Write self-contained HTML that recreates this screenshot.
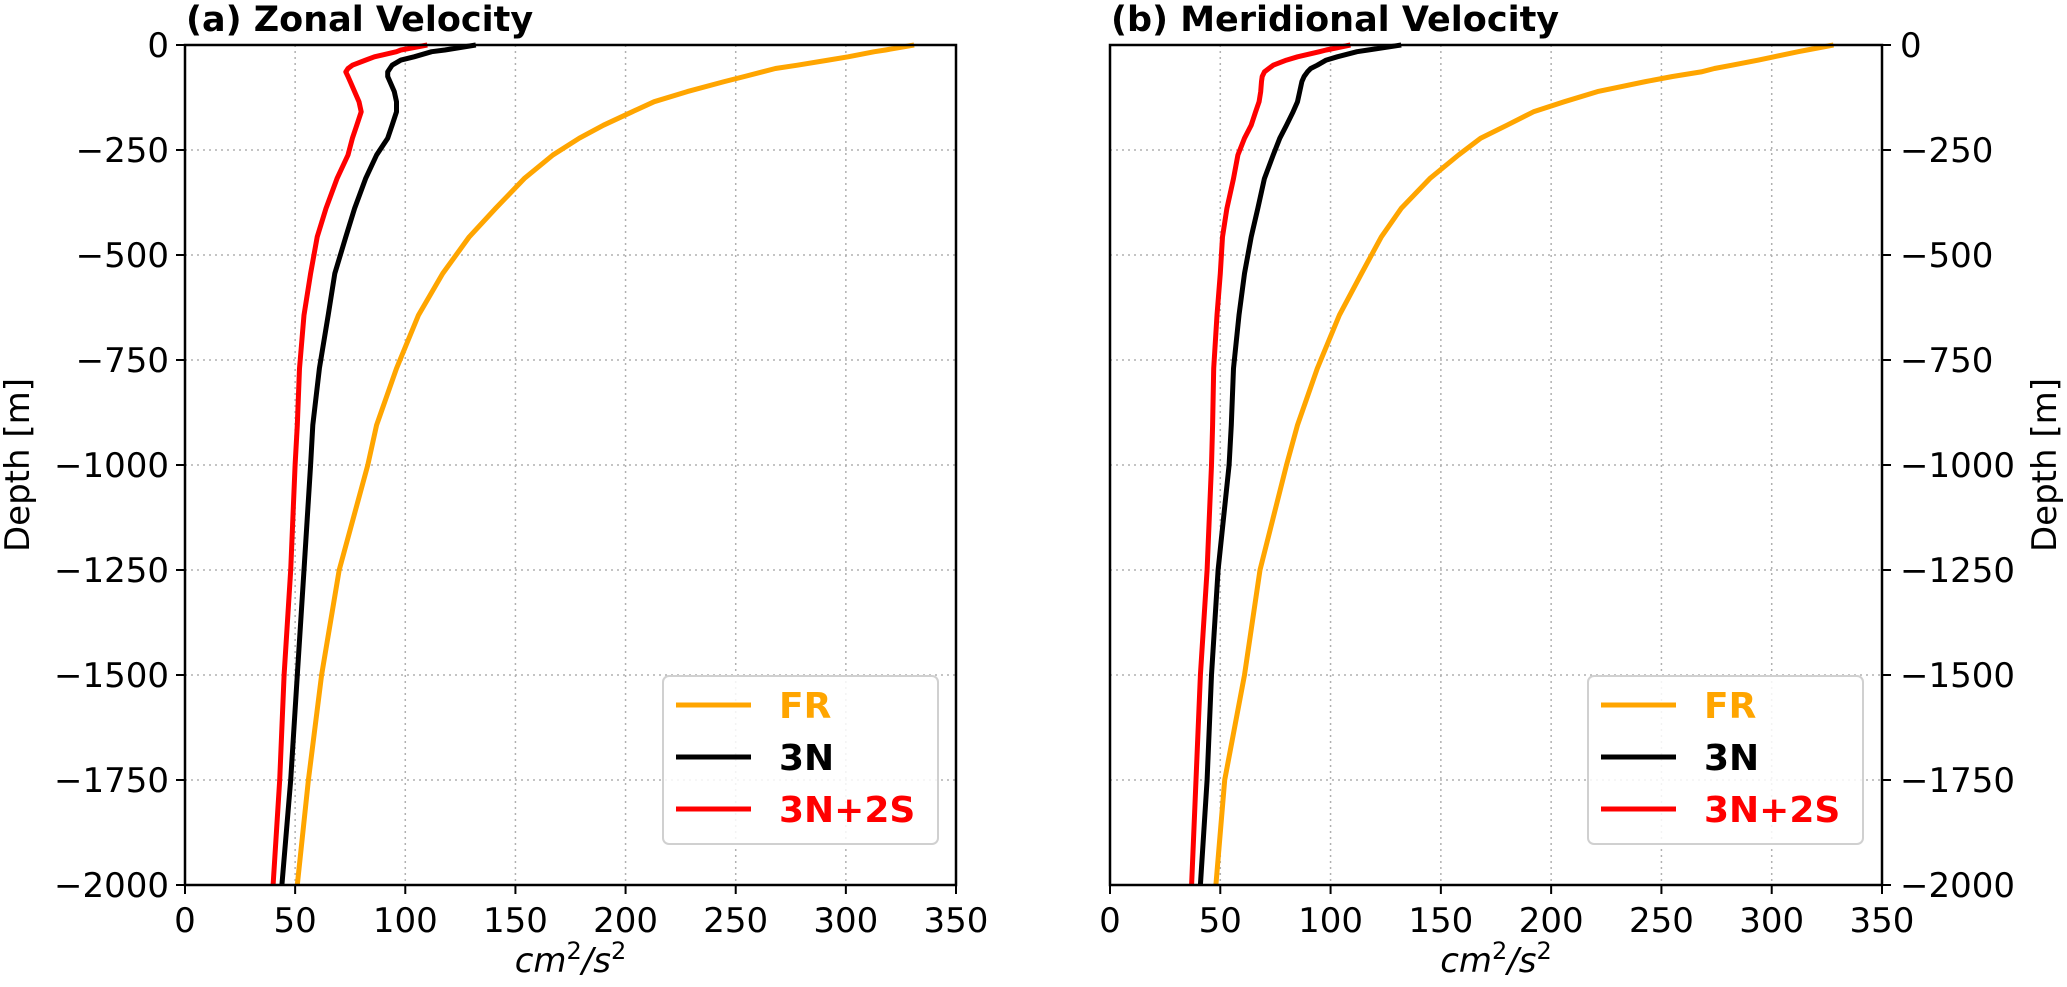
<!DOCTYPE html>
<html><head><meta charset="utf-8"><style>
html,body{margin:0;padding:0;background:#fff}
svg{display:block}
text{font-family:"DejaVu Sans","Liberation Sans",sans-serif}
</style></head><body>
<svg id="fig" width="2067" height="987" viewBox="0 0 2067 987" xmlns="http://www.w3.org/2000/svg"></svg>
<script>
const depths = [0,-12,-16,-28,-36,-48,-56,-64,-75,-87,-111,-135,-159,-191,-222,-262,-318,-389,-457,-544,-643,-770,-905,-1000,-1250,-1500,-1750,-2000];
// Zonal
const zonalFR   = [331,318,313,301,292,278,268,262,254,245,228,213,203,190,179,167,154,141,129,117,106,96,87,83,70,62,56,51];
const zonal3N   = [132,118,112,104,98,94,93,92,92,93,95,96,96,94,92,87,82,77,73,68,65,61,58,57,54,51,48,44];
const zonal3N2S = [110,98,96,86,82,76,74,73,74,75,77,79,80,78,76,74,69,64,60,57,54,52,51,50,48,45,43,40];
// Meridional
const merFR     = [328,316,312,301,294,282,274,268,255,243,221,206,192,180,168,158,145,132,123,114,104,94,85,80,68,61,52,48];
const mer3N     = [132,117,112,103,98,94,91,89.5,88,87,86,85,83,80,77,74,70,67,64,61,58.5,56,55,54,49,46,44,41];
const mer3N2S   = [109,98,95,85,80,74,72,70,69,68.7,68.3,67.6,66,64,61,58,56,53,51,50,48.5,47,46.5,46,44,41,39,37];
const xTicks = [0,50,100,150,200,250,300,350];
const yTicks = [0,-250,-500,-750,-1000,-1250,-1500,-1750,-2000];
const seriesNames = ["FR","3N","3N+2S"];
const seriesColors = ["#ffa500","#000000","#ff0000"];

const NS="http://www.w3.org/2000/svg";
const svg=document.getElementById('fig');
function el(tag,attrs,parent){const e=document.createElementNS(NS,tag);for(const k in attrs)e.setAttribute(k,attrs[k]);(parent||svg).appendChild(e);return e;}
const T=45,B=885;
function yS(d){return T+(0-d)/2000*(B-T);}

function panel(L,R,title,data,rightAxis,key){
  const g=el('g',{});
  
  
  const xS=v=>L+v/350*(R-L);
  xTicks.forEach(t=>{
    if(t>0&&t<350){const l=el('line',{x1:xS(t),x2:xS(t),y1:T,y2:B,stroke:'#b0b0b0','stroke-width':1.5,'stroke-dasharray':'2,4'},g);
    }
  });
  yTicks.forEach(t=>{
    if(t<0&&t>-2000){const l=el('line',{x1:L,x2:R,y1:yS(t),y2:yS(t),stroke:'#b0b0b0','stroke-width':1.5,'stroke-dasharray':'2,4'},g);
    }
  });
  data.forEach((arr,i)=>{
    const pts=arr.map((v,j)=>xS(v).toFixed(1)+','+yS(depths[j]).toFixed(1)).join(' ');
    const p=el('polyline',{points:pts,fill:'none',stroke:seriesColors[i],'stroke-width':5,'stroke-linejoin':'round'},g);
    
    
  });
  const fr=el('rect',{x:L,y:T,width:R-L,height:B-T,fill:'none',stroke:'#000','stroke-width':2.5},g);
  
  xTicks.forEach(t=>{
    el('line',{x1:xS(t),x2:xS(t),y1:B,y2:B+9,stroke:'#000','stroke-width':2},g);
    const tx=el('text',{x:xS(t),y:932,'font-size':34,'text-anchor':'middle'},g);
    tx.textContent=String(t);
    
  });
  yTicks.forEach(t=>{
    const lab=t===0?'0':'\u2212'+Math.abs(t);
    if(!rightAxis){
      el('line',{x1:L-9,x2:L,y1:yS(t),y2:yS(t),stroke:'#000','stroke-width':2},g);
      const tx=el('text',{x:L-16,y:yS(t)+12,'font-size':34,'text-anchor':'end'},g);
      tx.textContent=lab;
    }else{
      el('line',{x1:R,x2:R+9,y1:yS(t),y2:yS(t),stroke:'#000','stroke-width':2},g);
      const tx=el('text',{x:R+18,y:yS(t)+12,'font-size':34,'text-anchor':'start'},g);
      tx.textContent=lab;
    }
  });
  const tt=el('text',{x:L+1,y:31,'font-size':35,'font-weight':'bold'},g);
  tt.textContent=title;
  const xl=el('text',{x:(L+R)/2,y:972,'font-size':34,'font-style':'italic','text-anchor':'middle'},g);
  xl.innerHTML='cm<tspan dy="-13" font-size="24" font-style="normal">2</tspan><tspan dy="13">/s</tspan><tspan dy="-13" font-size="24" font-style="normal">2</tspan>';
  
  const yx=rightAxis?2045:18;
  const yl=el('text',{x:yx,y:(T+B)/2,'font-size':34,'text-anchor':'middle','dominant-baseline':'central',transform:`rotate(-90 ${yx} ${(T+B)/2})`},g);
  yl.textContent='Depth [m]';
  const lg=el('g',{},g);
  
  const lx=L+478;
  el('rect',{x:lx,y:676,width:275,height:168,rx:6,fill:'#fff','fill-opacity':0.85,stroke:'#d0d0d0','stroke-width':2},lg);
  seriesNames.forEach((n,i)=>{
    const yy=705+i*52;
    el('line',{x1:lx+13,x2:lx+88,y1:yy,y2:yy,stroke:seriesColors[i],'stroke-width':5},lg);
    const t=el('text',{x:lx+116,y:yy+13,'font-size':36,'font-weight':'bold',fill:seriesColors[i]},lg);
    t.textContent=n;
  });
}
panel(185,956,'(a) Zonal Velocity',[zonalFR,zonal3N,zonal3N2S],false,'zonal');
panel(1110,1882,'(b) Meridional Velocity',[merFR,mer3N,mer3N2S],true,'meridional');
</script>
</body></html>
